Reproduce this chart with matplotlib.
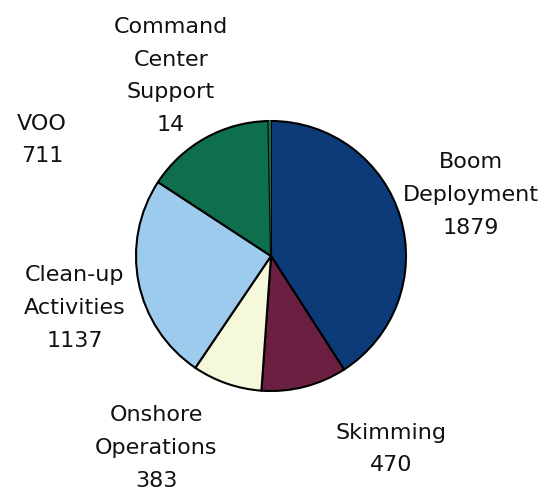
import matplotlib
matplotlib.use("Agg")
import matplotlib.pyplot as plt

categories = ["Boom Deployment", "Skimming", "Onshore Operations",
              "Clean-up Activities", "VOO", "Command Center Support"]
values = [1879, 470, 383, 1137, 711, 14]
label_texts = ["Boom\nDeployment\n1879", "Skimming\n470", "Onshore\nOperations\n383",
               "Clean-up\nActivities\n1137", "VOO\n711", "Command\nCenter\nSupport\n14"]
colors = ["#0d3a78", "#6b1f41", "#f5f8da", "#9dcbee", "#0f6e4c", "#0f6e4c"]

W, H = 542, 493
fig = plt.figure(figsize=(W / 100, H / 100), dpi=100)
ax = fig.add_axes([0, 0, 1, 1])

cx, cy, r = 271, H - 256, 135
wedges, _ = ax.pie(values, colors=colors, startangle=90, counterclock=False,
                   center=(cx, cy), radius=r,
                   wedgeprops=dict(edgecolor="black", linewidth=1.5), frame=True)
wedges[-1].set_edgecolor("none")
ax.set_xlim(0, W)
ax.set_ylim(0, H)
ax.set_aspect("equal")
ax.axis("off")

# label positions in pixel (x, y-from-top) of block centers
pos = {
    "Boom Deployment": (471, 195),
    "Skimming": (391, 449),
    "Onshore Operations": (156, 448),
    "Clean-up Activities": (75, 308),
    "VOO": (42, 140),
    "Command Center Support": (171, 76),
}
for cat, txt in zip(categories, label_texts):
    x, y = pos[cat]
    ax.text(x, H - y, txt, ha="center", va="center", fontsize=16,
            linespacing=1.8, color="#111111", family="DejaVu Sans")

fig.savefig("out.png", dpi=100, facecolor="white")
